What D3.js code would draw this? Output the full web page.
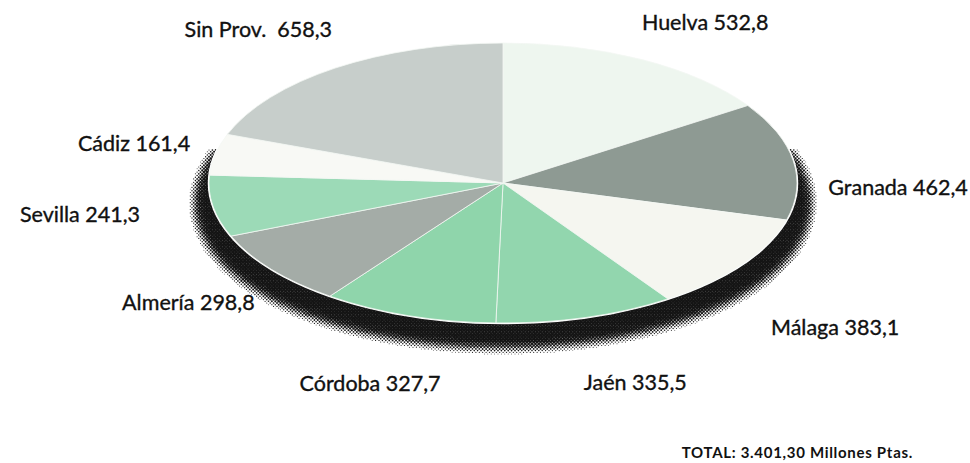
<!DOCTYPE html>
<html>
<head>
<meta charset="utf-8">
<script src="https://cdn.jsdelivr.net/npm/d3@7"></script>
<style>
  html, body { margin: 0; padding: 0; background: #ffffff; }
  svg { display: block; }
  .lbl { font-family: Lato, "Noto Sans", sans-serif; font-size: 21.5px; fill: #111; stroke: #111; stroke-width: 0.35px; }
  .total { font-family: Lato, "Noto Sans", sans-serif; font-size: 15px; font-weight: 700; letter-spacing: 0.7px; fill: #111; }
</style>
</head>
<body>
<svg id="chart" width="970" height="463"></svg>
<script>
// Investment by province (millions of pesetas), clockwise from 12 o'clock
const provinces = ["Huelva", "Granada", "Málaga", "Jaén", "Córdoba", "Almería", "Sevilla", "Cádiz", "Sin Prov."];
const amounts   = [532.8, 462.4, 383.1, 335.5, 327.7, 298.8, 241.3, 161.4, 658.3];
const valueText = ["532,8", "462,4", "383,1", "335,5", "327,7", "298,8", "241,3", "161,4", "658,3"];
const totalText = "TOTAL: 3.401,30 Millones Ptas.";

// Slice fills, in the same order as provinces
const sliceColors = ["#eef6ef", "#8e9a93", "#f5f6f0", "#92d6ae", "#8fd5ab", "#a4aca7", "#9cdab7", "#f8f9f5", "#c7cecb"];

// Label placement: offset from the rim point at each slice's mid-angle
const labelNudge = [
  { dx: 0,   dy: -30, anchor: "start" },
  { dx: 35,  dy: 34,  anchor: "start" },
  { dx: 29,  dy: 70,  anchor: "start" },
  { dx: -2,  dy: 73,  anchor: "start" },
  { dx: 32,  dy: 75,  anchor: "end" },
  { dx: -17, dy: 41,  anchor: "end" },
  { dx: -73, dy: 16,  anchor: "end" },
  { dx: -25, dy: -3,  anchor: "end" },
  { dx: -3,  dy: -31, anchor: "end" }
];

const svg = d3.select("#chart");

// Tilted pie geometry: a unit-radius pie squashed into an ellipse
const cx = 503, cy = 183, rx = 294, ry = 140, R = 100;

const pie = d3.pie().sort(null).value(d => d)(amounts);
const arc = d3.arc().innerRadius(0).outerRadius(R);

// ---- Halftone drop shadow under the disc ----
const sh = { cx: 503, cy: 203, rx: 301, ry: 138 };
const dots = [];
const step = 3.4, rowStep = 1.7;
for (let j = 0, y = 150; y < 370; j++, y += rowStep) {
  const off = (j % 2) * step / 2;
  for (let x = 175 + off; x < 840; x += step) {
    const px = x - sh.cx, py = y - sh.cy;
    const f = (px * px) / (sh.rx * sh.rx) + (py * py) / (sh.ry * sh.ry) - 1;
    const gx = 2 * px / (sh.rx * sh.rx), gy = 2 * py / (sh.ry * sh.ry);
    const dist = f / Math.sqrt(gx * gx + gy * gy);
    // points well inside the disc are hidden anyway
    if (dist < -30) continue;
    let t = (dist + 4) / 19;
    t = Math.max(0, Math.min(1, t));
    const k = 1 - t * t * (3 - 2 * t);
    if (k < 0.04) continue;
    dots.push({ x, y, r: 1.5 * Math.sqrt(k) + 0.15 });
  }
}
svg.append("g").attr("class", "shadow")
  .selectAll("circle").data(dots).join("circle")
  .attr("cx", d => d.x).attr("cy", d => d.y).attr("r", d => d.r)
  .attr("fill", "#151515");

// ---- Pie top surface ----
const disc = svg.append("g")
  .attr("transform", `translate(${cx},${cy}) scale(${rx / R},${ry / R})`);

// white rim separating the disc from its shadow
disc.append("circle").attr("r", R).attr("fill", "#fff")
  .attr("stroke", "#fff").attr("stroke-width", 2.5)
  .attr("vector-effect", "non-scaling-stroke");

disc.selectAll("path.slice").data(pie).join("path")
  .attr("class", "slice")
  .attr("d", arc)
  .attr("fill", (d, i) => sliceColors[i])
  .attr("stroke", "#f4f7f4")
  .attr("stroke-width", 0.8)
  .attr("stroke-linejoin", "round")
  .attr("vector-effect", "non-scaling-stroke");

// ---- Labels ----
svg.append("g").selectAll("text").data(pie).join("text")
  .attr("class", "lbl")
  .attr("x", (d, i) => cx + rx * Math.sin((d.startAngle + d.endAngle) / 2) + labelNudge[i].dx)
  .attr("y", (d, i) => cy - ry * Math.cos((d.startAngle + d.endAngle) / 2) + labelNudge[i].dy)
  .attr("text-anchor", (d, i) => labelNudge[i].anchor)
  .attr("xml:space", "preserve")
  .text((d, i) => provinces[i] + (i === 8 ? "  " : " ") + valueText[i]);

svg.append("text").attr("class", "total")
  .attr("x", 913).attr("y", 458).attr("text-anchor", "end")
  .text(totalText);
</script>
</body>
</html>
